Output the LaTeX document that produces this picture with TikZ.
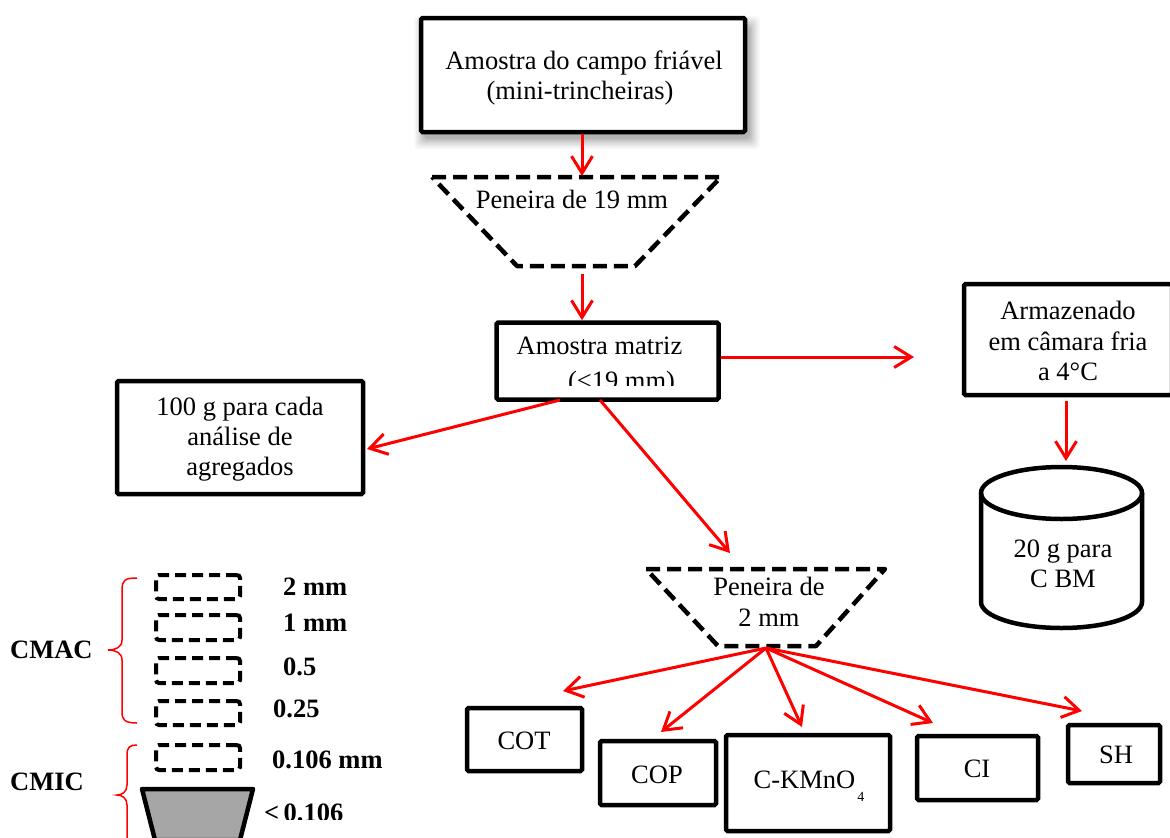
\documentclass[tikz,border=0pt]{standalone}
\usepackage{fontspec}
\setmainfont{Liberation Serif}
\usetikzlibrary{arrows.meta}
\definecolor{sievegray}{RGB}{166,166,166}
\tikzset{
  box/.style={draw, line width=4.5pt, rounded corners=1.5pt, inner sep=0pt, fill=white},
  txt/.style={anchor=base, inner sep=0pt, font=\fontsize{26.5}{30}\selectfont},
  btxt/.style={anchor=base west, inner sep=0pt, font=\fontsize{26.5}{30}\selectfont\bfseries},
  arr/.style={draw=red, line width=3pt, -{Straight Barb[length=17pt,width=21pt]}},
  sieve/.style={draw, line width=4.5pt, dash pattern=on 14pt off 7pt, line join=round},
  smallsieve/.style={draw, line width=4pt, dash pattern=on 11pt off 6pt, rounded corners=3pt, inner sep=0pt, minimum width=84pt},
  bracepath/.style={draw=red, line width=1.5pt},
}
\begin{document}
\begin{tikzpicture}[x=1pt,y=-1pt]
\useasboundingbox (0,0) rectangle (1170,838);
\fill[white] (0,0) rectangle (1170,838);

% soft shadow of the top box
\foreach \e/\o in {10/0.03,8/0.04,6/0.05,4/0.06,2/0.07,0/0.08}
  \fill[black,opacity=\o,rounded corners=4pt] (424-\e,26-\e) rectangle (750+\e,139+\e);

% top box
\node[box, minimum width=324pt, minimum height=114pt] (amostra) at (583,75) {};
\node[txt] (amostraA) at (584,69) {Amostra do campo friável};
\node[txt] (amostraB) at (580,99) {(mini-trincheiras)};

% sieve 19 mm
\draw[sieve] (432,177) -- (721,177) -- (635,266) -- (517,266) -- cycle;
\coordinate (s1top) at (582,176);
\coordinate (s1out) at (582,274);
\node[txt] (s1lab) at (572,208) {Peneira de 19 mm};

% amostra matriz
\node[box, minimum width=222pt, minimum height=77pt] (matriz) at (607.5,361) {};
\node[txt] (matrizA) at (599.5,354) {Amostra matriz};
\begin{scope}
  \clip (499,325) rectangle (716,385);
  \node[txt] (matrizB) at (621.5,389) {(<19 mm)};
\end{scope}

% armazenado
\node[box, minimum width=208pt, minimum height=111pt] (armaz) at (1068,339.5) {};
\node[txt] (armazA) at (1068,319) {Armazenado};
\node[txt] (armazB) at (1068,350) {em câmara fria};
\node[txt] (armazC) at (1068,380) {a 4°C};
\coordinate (armtip) at (914,357);
\coordinate (armout) at (1066,401);
\coordinate (cyltip) at (1066,461);

% cylinder
\draw[line width=4.5pt, fill=white] (981,493) -- (981,602) arc[start angle=180,end angle=0,x radius=80.5,y radius=26] -- (1142,493);
\draw[line width=4.5pt] (1061.5,493) ellipse[x radius=80.5,y radius=26];
\node[txt] (cylA) at (1063,557) {20 g para};
\node[txt] (cylB) at (1063,587) {C BM};

% 100 g box
\node[box, minimum width=246pt, minimum height=113pt] (agreg) at (240,437.5) {};
\node[txt] (agregA) at (240,415) {100 g para cada};
\node[txt] (agregB) at (240,445) {análise de};
\node[txt] (agregC) at (240,475) {agregados};

% sieve 2 mm
\draw[sieve] (646,569) -- (885,569) -- (816,646) -- (718,646) -- cycle;
\node[txt] (s2labA) at (769,595) {Peneira de};
\node[txt] (s2labB) at (769,626) {2 mm};
\coordinate (s2tip) at (730,553);
\coordinate (s2out) at (766,648);

% analysis boxes
\node[box, minimum width=115pt, minimum height=63pt] (cot) at (524.5,739.5) {};
\node[txt] (cotT) at (524,749) {COT};
\node[box, minimum width=116pt, minimum height=64pt] (cop) at (658,773) {};
\node[txt] (copT) at (657,783) {COP};
\node[box, minimum width=164pt, minimum height=96pt] (kmn) at (808,783) {};
\node[txt] (kmnT) at (809,788) {C-KMnO\hspace{2pt}\raisebox{-13pt}{\fontsize{14}{16}\selectfont 4}};
\node[box, minimum width=121pt, minimum height=64pt] (ci) at (977.5,768) {};
\node[txt] (ciT) at (977,777) {CI};
\node[box, minimum width=92pt, minimum height=58pt] (sh) at (1114,754) {};
\node[txt] (shT) at (1116,763) {SH};

% arrow end points
\coordinate (m1) at (560,400);
\coordinate (m2) at (600,400);
\coordinate (agtip) at (367,449);
\coordinate (cottip) at (563,691);
\coordinate (coptip) at (661,732);
\coordinate (kmntip) at (802,727);
\coordinate (citip) at (933,723);
\coordinate (shtip) at (1082,711);

% connectors
\draw[arr] (amostra.south -| s1top) -- (s1top);
\draw[arr] (s1out) -- (matriz.north -| s1out);
\draw[arr] (matriz.east |- armtip) -- (armtip);
\draw[arr] (armout) -- (cyltip);
\draw[arr] (m1) -- (agtip);
\draw[arr] (m2) -- (s2tip);
\draw[arr] (s2out) -- (cottip);
\draw[arr] (s2out) -- (coptip);
\draw[arr] (s2out) -- (kmntip);
\draw[arr] (s2out) -- (citip);
\draw[arr] (s2out) -- (shtip);

% aggregate sieves
\node[smallsieve, minimum height=24pt] (d1) at (198,587) {};
\node[smallsieve, minimum height=25pt] (d2) at (198,627.5) {};
\node[smallsieve, minimum height=25pt] (d3) at (198,670.5) {};
\node[smallsieve, minimum height=24pt] (d4) at (198,713) {};
\node[smallsieve, minimum height=25pt] (d5) at (198,757.5) {};
\draw[line width=4.5pt, fill=sievegray, line join=round] (142,789) -- (253,789) -- (240,840) -- (155,840) -- cycle;

\node[btxt] (l1) at (283,595) {2 mm};
\node[btxt] (l2) at (283,631) {1 mm};
\node[btxt] (l3) at (283,675) {0.5};
\node[btxt] (l4) at (273,717) {0.25};
\node[btxt] (l5) at (272,768) {0.106 mm};
\begin{scope}
  \clip (255,790) rectangle (420,819);
  \node[btxt] (l6) at (264,821) {<\,0.106};
\end{scope}

% braces
\draw[bracepath] (137,578) .. controls (125,578) and (122,580) .. (122,590) -- (122,640)
  .. controls (122,647) and (116,650) .. (108,650) .. controls (116,650) and (122,653) .. (122,660)
  -- (122,712) .. controls (122,720) and (125,723) .. (137,723);
\draw[bracepath] (137,745) .. controls (130,745) and (127,747) .. (127,755) -- (127,785)
  .. controls (127,792) and (122,795) .. (117,795) .. controls (122,795) and (127,798) .. (127,805)
  -- (127,850);
\node[btxt] (cmac) at (10,658) {CMAC};
\node[btxt] (cmic) at (10,790) {CMIC};
\end{tikzpicture}
\end{document}
